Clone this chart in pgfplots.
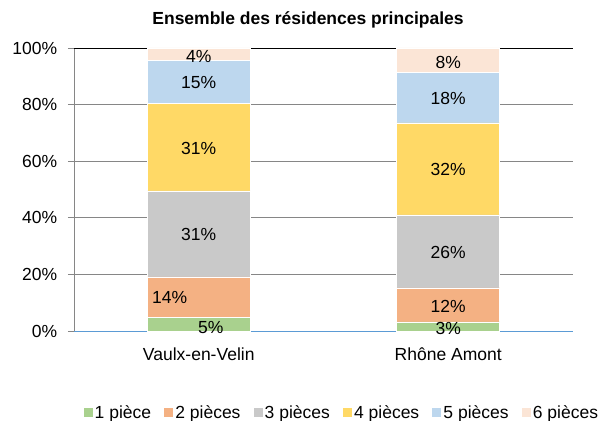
\documentclass[border=0pt]{standalone}
\usepackage{fontspec}
\setmainfont{Liberation Sans}
\usepackage{pgfplots}
\pgfplotsset{compat=1.18}
\usetikzlibrary{calc}

\definecolor{pA}{HTML}{A9D18E}
\definecolor{pB}{HTML}{F4B183}
\definecolor{pC}{HTML}{C9C9C9}
\definecolor{pD}{HTML}{FFD966}
\definecolor{pE}{HTML}{BDD7EE}
\definecolor{pF}{HTML}{FBE5D6}
\definecolor{gridgray}{HTML}{868686}
\definecolor{xblue}{HTML}{5B9BD5}

% label positions: x, y (middle of segment), shown value
\pgfplotstableread{
x      y     v
0.048  1.1   5
-0.117 12.0  14
0      34.0  31
0      64.6  31
0      87.7  15
0      96.9  4
1      0.8   3
1      8.8   12
1      27.8  26
1      57.0  32
1      82.0  18
1      94.9  8
}\labels

\begin{document}
\begin{tikzpicture}[font=\fontsize{17.5bp}{21bp}\selectfont]
\begin{axis}[
  name=ax,
  scale only axis, width=499bp, height=283bp,
  ybar stacked, bar width=103bp,
  xmin=-0.5, xmax=1.5, ymin=0, ymax=100,
  xtick={0,1}, xticklabels={Vaulx-en-Velin, Rhône Amont},
  ytick={0,20,...,80},
  extra y ticks={100}, extra y tick style={grid style={black, line width=0.9bp}},
  yticklabel={\pgfmathprintnumber{\tick}\%},
  /pgf/number format/assume math mode=true,
  tick align=outside,
  ytick style={gridgray, line width=0.8bp},
  major tick length=6bp,
  xtick style={draw=none},
  axis x line*=bottom, axis y line*=left,
  x axis line style={xblue, line width=0.9bp, -},
  y axis line style={gridgray, line width=0.8bp, -},
  ymajorgrids, grid style={gridgray, line width=0.8bp},
  yticklabel style={anchor=east, inner sep=0pt, xshift=-10.7bp},
  xticklabel style={anchor=base, inner sep=0pt, yshift=-23bp},
  title={\bfseries Ensemble des résidences principales},
  title style={at={(0.469,1)}, anchor=base, inner sep=0pt, yshift=18bp},
  legend columns=6,
  legend style={draw=none, fill=none, at={(0.535,-0.289)}, anchor=center,
    nodes={inner sep=1.2bp},
    /tikz/every even column/.append style={column sep=11bp}},
  legend image code/.code={\fill[#1] (0bp,-5bp) rectangle (10bp,5bp);},
  every axis plot/.append style={draw=white, line width=0.8bp},
]
\addplot[fill=pA] coordinates {(0,4.9) (1,3.2)};
\addplot[fill=pB] coordinates {(0,14.2) (1,12.0)};
\addplot[fill=pC] coordinates {(0,30.4) (1,25.8)};
\addplot[fill=pD] coordinates {(0,30.8) (1,32.5)};
\addplot[fill=pE] coordinates {(0,15.2) (1,18.0)};
\addplot[fill=pF] coordinates {(0,4.5) (1,8.5)};
\legend{1 pièce, 2 pièces, 3 pièces, 4 pièces, 5 pièces, 6 pièces}
\end{axis}
\begin{axis}[
  scale only axis, width=499bp, height=283bp,
  xmin=-0.5, xmax=1.5, ymin=0, ymax=100,
  hide axis,
]
\addplot[only marks, mark=none, point meta=explicit,
  nodes near coords={\pgfmathprintnumber[assume math mode=true]{\pgfplotspointmeta}\%},
  every node near coord/.append style={anchor=center, inner sep=0pt, font=\fontsize{17.5bp}{21bp}\selectfont}]
  table[x=x, y=y, meta=v] {\labels};
\end{axis}
\pgfresetboundingbox
\useasboundingbox ($(ax.south west)+(-74bp,-90bp)$) rectangle ($(ax.south west)+(535bp,331bp)$);
\end{tikzpicture}
\end{document}
